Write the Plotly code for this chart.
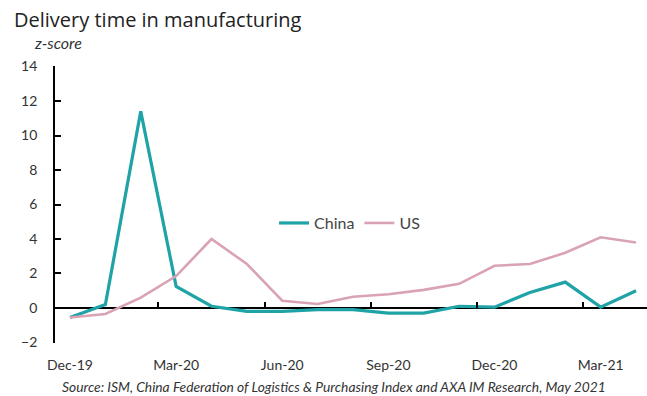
import plotly.graph_objects as go

months = ["Dec-19", "Jan-20", "Feb-20", "Mar-20", "Apr-20", "May-20", "Jun-20", "Jul-20",
          "Aug-20", "Sep-20", "Oct-20", "Nov-20", "Dec-20", "Jan-21", "Feb-21", "Mar-21", "Apr-21"]
china = [-0.55, 0.2, 11.4, 1.25, 0.1, -0.2, -0.2, -0.1, -0.1, -0.3, -0.3, 0.1, 0.05, 0.9, 1.5, 0.05, 1.0]
us = [-0.55, -0.35, 0.6, 1.85, 4.0, 2.55, 0.42, 0.23, 0.65, 0.8, 1.05, 1.4, 2.45, 2.55, 3.2, 4.1, 3.8]
label_months = ["Dec-19", "Mar-20", "Jun-20", "Sep-20", "Dec-20", "Mar-21"]
y_ticks = [-2, 0, 2, 4, 6, 8, 10, 12, 14]

idx = list(range(len(months)))
label_pos = [months.index(m) for m in label_months]
sep_pos = [p + 2.5 for p in label_pos[:-1]]

FONT = "Lato"
TEAL = "#1fa3a6"
PINK = "#d9a3b4"

fig = go.Figure()
fig.add_trace(go.Scatter(x=idx, y=china, mode="lines", name="China",
                         line=dict(color=TEAL, width=3.2)))
fig.add_trace(go.Scatter(x=idx, y=us, mode="lines", name="US",
                         line=dict(color=PINK, width=2.6)))
# invisible trace to activate the tick-mark axis at zero
fig.add_trace(go.Scatter(x=[idx[0]], y=[0], xaxis="x2", mode="markers",
                         marker=dict(opacity=0), showlegend=False, hoverinfo="skip"))

xr = [-0.424, 16.31]
yr = [-2.03, 14.03]
zero_frac = (0 - yr[0]) / (yr[1] - yr[0])
fig.update_layout(
    width=647, height=396,
    margin=dict(l=55, r=0, t=66, b=53),
    paper_bgcolor="white", plot_bgcolor="white",
    font=dict(family=FONT, color="#333333"),
    showlegend=True,
    legend=dict(orientation="h", x=0.37, y=0.433, xanchor="left", yanchor="middle",
                bgcolor="rgba(0,0,0,0)", font=dict(size=16, color="#444444"),
                itemwidth=30, tracegroupgap=0),
    title=dict(text="Delivery time in manufacturing", xref="container", yref="container",
               x=14/647, xanchor="left", y=1-20/396, yanchor="middle",
               font=dict(family="Open Sans", size=20, color="#222222")),
    xaxis=dict(range=xr, tickmode="array", tickvals=label_pos, ticktext=label_months,
               showline=False, ticks="", showgrid=False, zeroline=False,
               tickfont=dict(size=14, color="#333333"), ticklabelstandoff=12),
    xaxis2=dict(range=xr, overlaying="x", anchor="free", position=zero_frac, side="bottom",
                tickmode="array", tickvals=sep_pos, ticks="inside", ticklen=6,
                tickwidth=2, tickcolor="black", showticklabels=False,
                showline=False, showgrid=False, zeroline=False),
    yaxis=dict(range=yr, tickmode="array", tickvals=y_ticks,
               showline=True, linecolor="black", linewidth=1.8,
               ticks="inside", ticklen=6, tickwidth=2, tickcolor="black",
               showgrid=False, zeroline=True, zerolinecolor="black", zerolinewidth=1.5,
               tickfont=dict(size=14, color="#333333"), ticklabelstandoff=13),
    annotations=[
        dict(text="<i>z-score</i>", xref="paper", yref="paper", x=(32-55)/592, y=(343-43)/277,
             xanchor="left", yanchor="middle", showarrow=False,
             font=dict(family=FONT, size=16, color="#333333")),
        dict(text="<i>Source: ISM, China Federation of Logistics &amp; Purchasing Index and AXA IM Research, May 2021</i>",
             xref="paper", yref="paper", x=(334-55)/592, y=(343-386)/277,
             xanchor="center", yanchor="middle", showarrow=False,
             font=dict(family=FONT, size=13.8, color="#333333")),
    ],
)

fig.write_html("out.html", config={"displayModeBar": False},
               post_script="document.body.style.margin='0px';")
